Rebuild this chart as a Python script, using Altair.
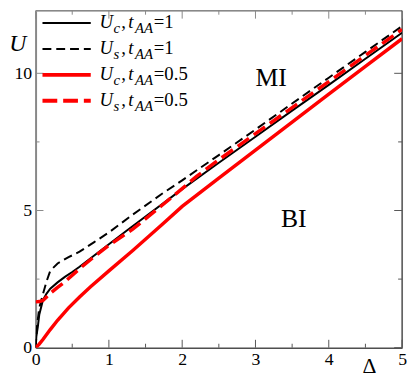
import altair as alt
import pandas as pd

# ---------------- data ----------------
uc1_d = [0, 0.01, 0.03, 0.05, 0.1, 0.15, 0.2, 0.3, 0.4, 0.5, 0.6, 0.8, 1.0, 1.25, 1.5, 2, 2.5, 3, 3.5, 4, 4.5, 5]
uc1_u = [0, 0.4, 0.75, 1.2, 1.73, 1.97, 2.15, 2.38, 2.58, 2.76, 2.95, 3.36, 3.77, 4.28, 4.78, 5.78, 6.74, 7.69, 8.64, 9.58, 10.53, 11.48]

us1_d = [0, 0.02, 0.05, 0.1, 0.15, 0.2, 0.3, 0.45, 0.6, 0.8, 1.0, 1.33, 1.73, 2, 2.5, 3, 3.5, 4, 4.5, 5]
us1_u = [0, 0.8, 1.45, 1.95, 2.42, 2.8, 3.07, 3.3, 3.5, 3.85, 4.2, 4.86, 5.62, 6.1, 7.02, 7.95, 8.9, 9.84, 10.78, 11.72]

uc05_d = [0, 0.05, 0.1, 0.2, 0.3, 0.45, 0.6, 0.75, 1.0, 1.33, 1.73, 2, 2.5, 3, 3.5, 4, 4.5, 5]
uc05_u = [0, 0.13, 0.3, 0.66, 1.0, 1.45, 1.85, 2.22, 2.8, 3.55, 4.5, 5.15, 6.18, 7.2, 8.22, 9.24, 10.25, 11.26]

us05_d = [0, 0.05, 0.1, 0.15, 0.2, 0.3, 0.4, 0.6, 0.8, 1.0, 1.33, 1.73, 2, 2.2, 2.5, 3, 3.5, 4, 4.5, 5]
us05_u = [1.67, 1.68, 1.72, 1.85, 1.98, 2.2, 2.4, 2.88, 3.32, 3.73, 4.33, 5.2, 5.8, 6.25, 6.85, 7.8, 8.75, 9.7, 10.65, 11.6]

x_major = [0, 1, 2, 3, 4, 5]
x_minor = [0.5, 1.5, 2.5, 3.5, 4.5]
y_major = [0, 5, 10]
y_minor = [2.5, 7.5]

legend_sub = ["c", "s", "c", "s"]
legend_val = ["=1", "=1", "=0.5", "=0.5"]
legend_color = ["black", "black", "red", "red"]

# ---------------- layout ----------------
W, H = 372, 342
OX, OY = 36, 8          # page position of plot origin
SERIF = "Liberation Serif, Times New Roman, serif"

xs = alt.Scale(domain=[0, 5], nice=False, zero=False)
ys = alt.Scale(domain=[0, 12.28], nice=False, zero=False)

XAX = alt.Axis(values=x_major, format="d", ticks=False, grid=False, title=None,
               labelFont=SERIF, labelFontSize=18, labelColor="black",
               labelFlush=False, labelOverlap=False, labelPadding=3,
               domainColor="black", domainWidth=1)
YAX = alt.Axis(values=y_major, format="d", ticks=False, grid=False, title=None,
               labelFont=SERIF, labelFontSize=18, labelColor="black",
               labelFlush=False, labelOverlap=False, labelPadding=4,
               domainColor="#888888", domainWidth=2)

def X(field):
    return alt.X(field, scale=xs, axis=XAX)

def Y(field):
    return alt.Y(field, scale=ys, axis=YAX)

def one():
    return alt.Data(values=[{"a": 1}])

def line(d, u, color, width, dash=None):
    df = pd.DataFrame({"d": d, "u": u})
    kw = dict(color=color, strokeWidth=width, clip=True)
    if dash:
        kw["strokeDash"] = dash
    return alt.Chart(df).mark_line(**kw).encode(
        x=X("d:Q"), y=Y("u:Q"), order=alt.Order("d:Q"))

def txt(s, px, py, size, italic=False, align="left", baseline="alphabetic"):
    return alt.Chart(one()).mark_text(
        text=s, font=SERIF, fontSize=size, fontStyle="italic" if italic else "normal",
        align=align, baseline=baseline, color="black"
    ).encode(x=alt.value(px - OX), y=alt.value(py - OY))

layers = []

# black solid curve drawn first
layers.append(line(uc1_d, uc1_u, "black", 2))

# frame: top and right
layers.append(alt.Chart(one()).mark_rule(color="#888888", strokeWidth=1.5).encode(
    x=alt.value(0), x2=alt.value(W), y=alt.value(0)))
layers.append(alt.Chart(one()).mark_rule(color="black", strokeWidth=1).encode(
    x=alt.value(W), y=alt.value(0), y2=alt.value(H)))

# ticks (inward) on all four sides
def xticks(vals, length):
    df = pd.DataFrame({"v": vals})
    b = alt.Chart(df).mark_rule(color="#555555", strokeWidth=1).encode(
        x=X("v:Q"), y=alt.value(H), y2=alt.value(H - length))
    t = alt.Chart(df).mark_rule(color="#888888", strokeWidth=1).encode(
        x=X("v:Q"), y=alt.value(0), y2=alt.value(length))
    return [b, t]

def yticks(vals, length):
    df = pd.DataFrame({"v": vals})
    l = alt.Chart(df).mark_rule(color="#888888", strokeWidth=1).encode(
        y=Y("v:Q"), x=alt.value(0), x2=alt.value(length))
    r = alt.Chart(df).mark_rule(color="#555555", strokeWidth=1).encode(
        y=Y("v:Q"), x=alt.value(W), x2=alt.value(W - length))
    return [l, r]

layers += xticks(x_major, 8) + xticks(x_minor, 4) + yticks(y_major, 8) + yticks(y_minor, 4)

# other curves
layers.append(line(us1_d, us1_u, "black", 2, [9, 5]))
layers.append(line(uc05_d, uc05_u, "red", 3.5))
layers.append(line(us05_d, us05_u, "red", 3.5, [14, 6]))

# legend
for i in range(4):
    yb = 26 + 26.3 * i
    yl = yb - 5.5
    dashed = legend_sub[i] == "s"
    red = legend_color[i] == "red"
    kw = dict(color=legend_color[i], strokeWidth=4 if red else 2)
    if dashed:
        kw["strokeDash"] = [15, 6] if red else [9, 5]
    layers.append(alt.Chart(one()).mark_rule(**kw).encode(
        x=alt.value(43 - OX), x2=alt.value(92 - OX), y=alt.value(yl - OY)))
    layers.append(txt("U", 101, yb, 19, italic=True))
    layers.append(txt(legend_sub[i], 115, yb + 5, 15, italic=True))
    layers.append(txt(",", 123, yb, 19))
    layers.append(txt("t", 130, yb, 19, italic=True))
    layers.append(txt("AA", 137, yb + 5, 15, italic=True))
    layers.append(txt(legend_val[i], 156, yb, 19))

# region labels and axis titles
layers.append(txt("MI", 275, 76, 26, align="center", baseline="middle"))
layers.append(txt("BI", 298, 220, 26, align="center", baseline="middle"))
layers.append(txt("U", 18, 42, 24, italic=True, align="center", baseline="middle"))
layers.append(txt("Δ", 375, 369, 22, align="center", baseline="middle"))

chart = alt.layer(*layers).properties(
    width=W, height=H,
    autosize=alt.AutoSizeParams(type="none"),
    padding={"left": OX - 8, "top": OY - 8, "right": 5, "bottom": 30},
).configure_view(stroke=None).configure(
    background="white", font=SERIF
).configure_axis(labelFont=SERIF, labelFontSize=18, labelColor="black")

chart.save("out.html", embed_options={"renderer": "svg", "actions": False})
